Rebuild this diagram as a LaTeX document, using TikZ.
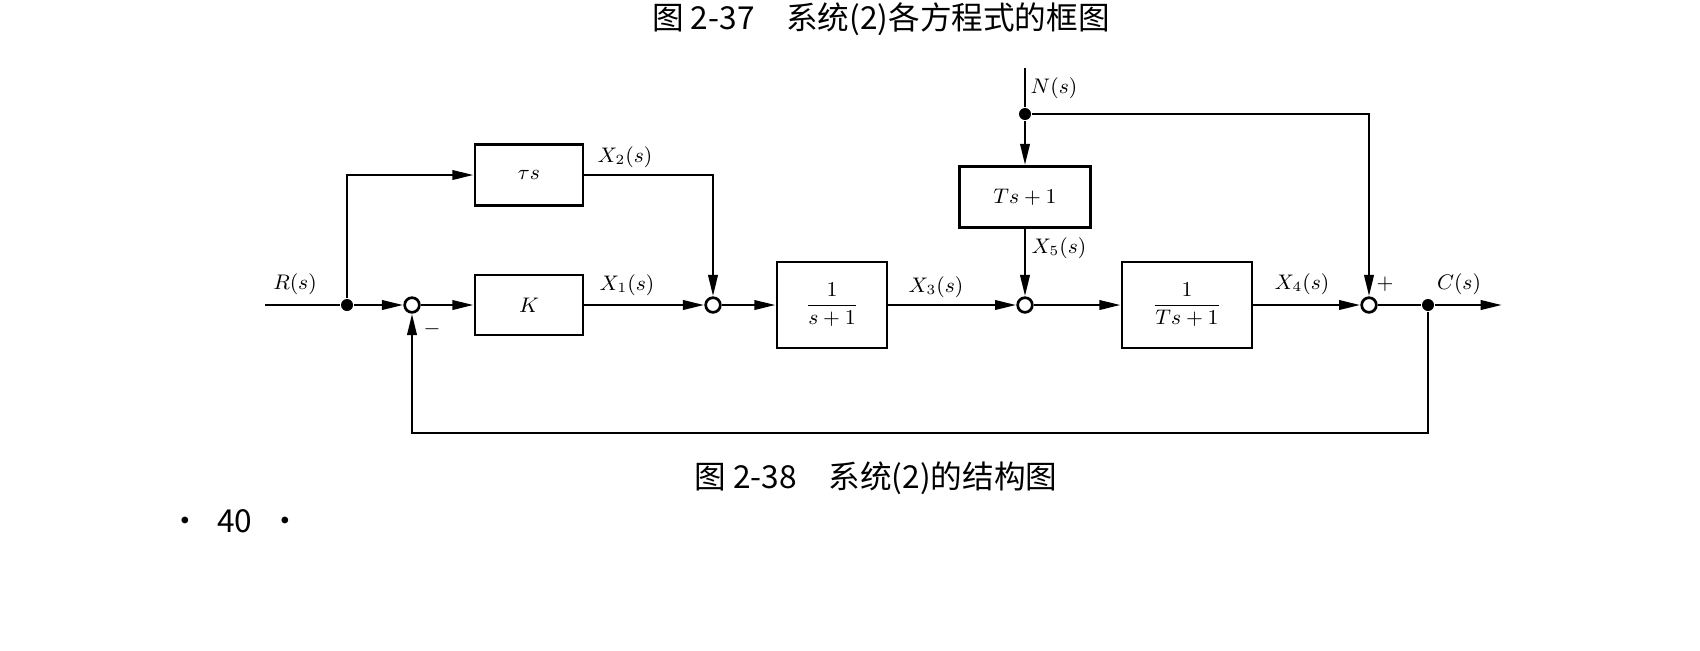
\documentclass[tikz,border=0pt]{standalone}
\usepackage{fontspec}
\usepackage{amsmath}
\newfontfamily\cjk{Noto Sans CJK SC}
\usetikzlibrary{arrows.meta}

\tikzset{
  blk/.style 2 args={draw,minimum width=#1,minimum height=#2,inner sep=0pt,font=\small},
  sumc/.style={draw,circle,fill=white,minimum size=2.2mm,inner sep=0pt},
  pnt/.style={circle,fill=black,minimum size=1.8mm,inner sep=0pt},
  lbl/.style={font=\small,inner sep=0pt},
  capt/.style={font=\fontsize{13.5}{16}\selectfont\cjk,inner sep=0pt}
}

\begin{document}
\begin{tikzpicture}[x=0.015cm,y=-0.015cm,line width=1.15pt,>={Triangle[length=3.2mm,width=1.4mm]}]
  \useasboundingbox (0,0) rectangle (1700,650);
  \node[capt,anchor=north] (capold) at (881,1) {图 2-37\quad 系统(2)各方程式的框图};
  % blocks
  \node[blk={1.62cm}{0.915cm}] (tau) at (529,175) {$\tau s$};
  \node[blk={1.62cm}{0.9cm}] (gk) at (529,305) {$K$};
  \node[blk={1.65cm}{1.29cm}] (g1) at (832,305) {$\dfrac{1}{s+1}$};
  \node[blk={1.965cm}{0.915cm}] (gn) at (1025,197) {$Ts+1$};
  \node[blk={1.95cm}{1.29cm}] (g2) at (1187,305) {$\dfrac{1}{Ts+1}$};
  % summing points and branch points
  \node[sumc] (s1) at (412,305) {};
  \node[sumc] (s2) at (713,305) {};
  \node[sumc] (s3) at (1025,305) {};
  \node[sumc] (s4) at (1369,305) {};
  \node[pnt] (rdot) at (347,305) {};
  \node[pnt] (ndot) at (1025,114) {};
  \node[pnt] (cdot) at (1428,305) {};
  \coordinate (rin) at (265,305);
  \coordinate (nin) at (1025,68);
  \coordinate (cout) at (1502,305);
  \coordinate (fb) at (1428,433);
  % signal lines
  \draw (rin) -- (rdot);
  \draw[->] (rdot) -- (s1);
  \draw[->] (s1) -- (gk);
  \draw[->] (gk) -- (s2);
  \draw[->] (rdot) |- (tau);
  \draw[->] (tau) -| (s2);
  \draw[->] (s2) -- (g1);
  \draw[->] (g1) -- (s3);
  \draw (nin) -- (ndot);
  \draw[->] (ndot) -- (gn);
  \draw[->] (gn) -- (s3);
  \draw[->] (s3) -- (g2);
  \draw[->] (g2) -- (s4);
  \draw[->] (ndot) -| (s4);
  \draw (s4) -- (cdot);
  \draw[->] (cdot) -- (cout);
  \draw[->] (cdot) -- (fb) -| (s1);
  % labels
  \node[lbl] (lr) at (295,284) {$R(s)$};
  \node[lbl] (lx2) at (625,157) {$X_2(s)$};
  \node[lbl] (lx1) at (627,285) {$X_1(s)$};
  \node[lbl] (lx3) at (936,287) {$X_3(s)$};
  \node[lbl] (ln) at (1054,88) {$N(s)$};
  \node[lbl] (lx5) at (1059,248) {$X_5(s)$};
  \node[lbl] (lx4) at (1302,284) {$X_4(s)$};
  \node[lbl] (lp) at (1385,284) {$+$};
  \node[lbl] (lc) at (1459,284) {$C(s)$};
  \node[lbl] (lm) at (432,329) {$-$};
  \node[capt] (cap) at (876,478) {图 2-38\quad 系统(2)的结构图};
  \node[capt] (pg) at (235,521) {·\hspace{2.5mm}40\hspace{2.5mm}·};
\end{tikzpicture}
\end{document}
